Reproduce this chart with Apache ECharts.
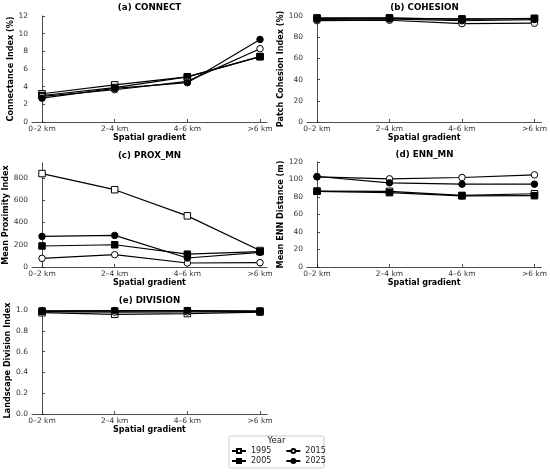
<!DOCTYPE html>
<html>
<head>
    <meta charset="utf-8">
    <title>Landscape metrics</title>
    <script src="https://cdn.jsdelivr.net/npm/echarts@6/dist/echarts.min.js"></script>
    <style>
        html, body {margin: 0; padding: 0; background: #fff;}
        #main {width: 550px; height: 473px;}
    </style>
</head>
<body>
<div id="main"></div>
<script type="text/javascript">
    // categories and years
    var cats = ['0–2 km', '2–4 km', '4–6 km', '>6 km'];
    var years = ['1995', '2005', '2015', '2025'];

    // values per metric, one row per year (1995, 2005, 2015, 2025)
    var connect = [
        [3.2, 4.2, 5.1, 7.4],
        [3.0, 3.9, 5.1, 7.4],
        [2.9, 3.65, 4.6, 8.3],
        [2.7, 3.8, 4.45, 9.35]
    ];
    var cohesion = [
        [97.6, 97.8, 97.3, 97.4],
        [98.2, 98.3, 96.9, 97.9],
        [95.6, 96.0, 92.8, 93.2],
        [96.9, 97.2, 95.5, 96.6]
    ];
    var prox = [
        [840, 695, 460, 148],
        [189, 200, 115, 138],
        [78, 111, 36, 39],
        [275, 284, 81, 132]
    ];
    var enn = [
        [86.7, 86.5, 81.8, 83.7],
        [86.5, 85.0, 81.3, 81.5],
        [103.0, 100.8, 102.3, 105.3],
        [103.4, 96.2, 94.7, 94.7]
    ];
    var division = [
        [0.974, 0.959, 0.966, 0.98],
        [0.99, 0.99, 0.993, 0.99],
        [0.985, 0.98, 0.982, 0.985],
        [0.992, 0.995, 0.995, 0.99]
    ];

    // tick values
    var connectTicks = [0, 2, 4, 6, 8, 10, 12];
    var cohesionTicks = [0, 20, 40, 60, 80, 100];
    var proxTicks = [0, 200, 400, 600, 800];
    var ennTicks = [0, 20, 40, 60, 80, 100, 120];
    var divisionTicks = [0, 0.2, 0.4, 0.6, 0.8, 1.0];

    var font = 'DejaVu Sans';

    var panels = [
        {title: '(a) CONNECT', yName: 'Connectance Index (%)', data: connect, ticks: connectTicks, max: 12,
            left: 32, top: 16, height: 106, gap: 13, titleTop: 3},
        {title: '(b) COHESION', yName: 'Patch Cohesion Index (%)', data: cohesion, ticks: cohesionTicks, max: 100,
            left: 307, top: 16, height: 106, gap: 17, titleTop: 3},
        {title: '(c) PROX_MN', yName: 'Mean Proximity Index', data: prox, ticks: proxTicks, max: 935,
            left: 32, top: 163, height: 104, gap: 15.5, titleTop: 151},
        {title: '(d) ENN_MN', yName: 'Mean ENN Distance (m)', data: enn, ticks: ennTicks, max: 120,
            left: 307, top: 162, height: 105, gap: 18, titleTop: 150},
        {title: '(e) DIVISION', yName: 'Landscape Division Index', data: division, ticks: divisionTicks, max: 1.029,
            left: 32, top: 307, height: 107, gap: 15.5, titleTop: 296, fmt: function (v) { return v.toFixed(1); }}
    ];

    var styles = [
        {symbol: 'rect', fill: '#fff'},
        {symbol: 'rect', fill: '#000'},
        {symbol: 'circle', fill: '#fff'},
        {symbol: 'circle', fill: '#000'}
    ];

    var grids = [], xAxes = [], yAxes = [], titles = [], series = [];

    panels.forEach(function (p, i) {
        grids.push({left: p.left, top: p.top, width: 235, height: p.height});
        titles.push({
            text: p.title, left: p.left + 117.5, top: p.titleTop, textAlign: 'center', padding: 0,
            textStyle: {fontFamily: font, fontSize: 8.7, fontWeight: 'bold', color: '#000'}
        });
        xAxes.push({
            type: 'value', gridIndex: i, min: -0.138, max: 3.096,
            name: 'Spatial gradient', nameLocation: 'middle', nameGap: 10,
            nameTextStyle: {fontFamily: font, fontSize: 8, fontWeight: 'bold', color: '#000'},
            axisLine: {lineStyle: {color: '#222', width: 0.8}},
            axisTick: {inside: true, length: 3, customValues: [0, 1, 2, 3], lineStyle: {color: '#222', width: 0.8}},
            axisLabel: {
                customValues: [0, 1, 2, 3], margin: 3, fontFamily: font, fontSize: 7.5, color: '#333',
                formatter: function (v) { return cats[Math.round(v)]; }
            },
            splitLine: {show: false}
        });
        yAxes.push({
            type: 'value', gridIndex: i, min: 0, max: p.max,
            name: p.yName, nameLocation: 'middle', nameGap: p.gap,
            nameTextStyle: {fontFamily: font, fontSize: 8.1, fontWeight: 'bold', color: '#000'},
            axisLine: {show: true, lineStyle: {color: '#222', width: 0.8}},
            axisTick: {show: true, inside: true, length: 3, customValues: p.ticks, lineStyle: {color: '#222', width: 0.8}},
            axisLabel: {
                customValues: p.ticks, margin: 4, fontFamily: font, fontSize: 7.5, color: '#333',
                formatter: p.fmt || function (v) { return String(v); }
            },
            splitLine: {show: false}
        });
        p.data.forEach(function (vals, k) {
            series.push({
                name: years[k], type: 'line', xAxisIndex: i, yAxisIndex: i,
                data: vals.map(function (v, j) { return [j, v]; }),
                symbol: styles[k].symbol, symbolSize: 6.5,
                lineStyle: {color: '#000', width: 1.2},
                itemStyle: {color: styles[k].fill, borderColor: '#000', borderWidth: 1},
                emphasis: {disabled: true}
            });
        });
    });

    var legendBase = {
        left: 231, padding: 0, itemWidth: 14, itemHeight: 5, itemGap: 14,
        textStyle: {fontFamily: font, fontSize: 8, color: '#222'}
    };

    var chart = echarts.init(document.getElementById('main'));
    chart.setOption({
        animation: false,
        backgroundColor: '#fff',
        title: titles,
        grid: grids,
        xAxis: xAxes,
        yAxis: yAxes,
        legend: [
            echarts.util.extend({top: 447, data: ['1995', '2015']}, legendBase),
            echarts.util.extend({top: 457, data: ['2005', '2025']}, legendBase)
        ],
        graphic: [
            {type: 'rect', shape: {x: 229, y: 436, width: 95, height: 32, r: 2},
                style: {fill: '#fff', stroke: '#ccc', lineWidth: 1}, z: -1},
            {type: 'text', x: 276.5, y: 441, style: {text: 'Year', fontFamily: font, fontSize: 8.5,
                fill: '#222', align: 'center', verticalAlign: 'middle'}}
        ],
        series: series
    });
</script>
</body>
</html>
